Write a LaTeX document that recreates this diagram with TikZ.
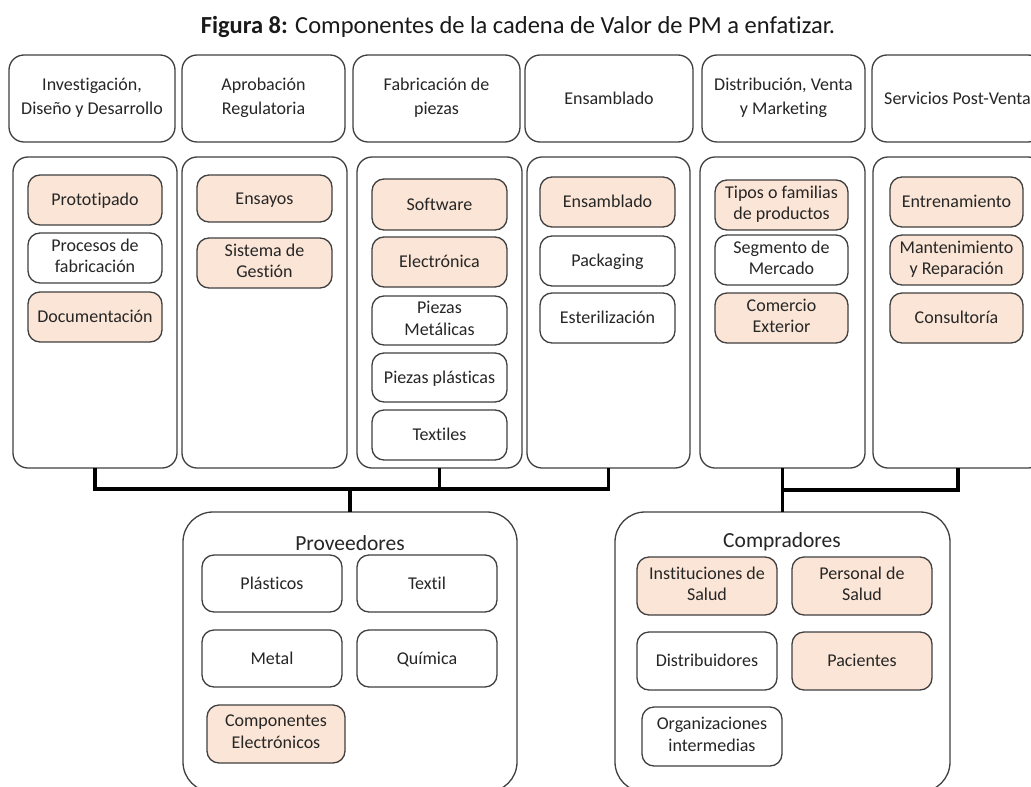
\documentclass[tikz,border=0pt]{standalone}
\usepackage{fontspec}
\setmainfont{Carlito}[Ligatures={NoCommon}]
\definecolor{peach}{HTML}{FBE5D6}
\definecolor{edge}{HTML}{404040}
\newcommand\tstrut{\rule{0pt}{15.5pt}}
\newcommand\bstrut{\rule[-4.5pt]{0pt}{4.5pt}}
\tikzset{
  base/.style={draw=edge, line width=1.3pt, align=center, inner sep=0pt, outer sep=0pt,
    font=\fontsize{18}{21.5}\selectfont, text=black!85,
    execute at begin node=\tstrut, execute at end node=\bstrut},
  head/.style={base, rounded corners=15pt, fill=white, font=\fontsize{18}{24}\selectfont},
  colbox/.style={base, rounded corners=15pt, fill=white},
  item/.style={base, rounded corners=12pt, fill=white},
  hl/.style={item, fill=peach},
  group/.style={base, rounded corners=30pt, fill=white},
  grouptitle/.style={font=\fontsize{21.5}{25}\selectfont, text=black!85, inner sep=0pt},
  conn/.style={line width=3.5pt, black, line join=miter}
}
\newcommand\bx[7]{\node[#6, minimum width={(#4-#2)*1pt}, minimum height={(#5-#3)*1pt}] (#1) at ({(#2+#4)/2},{(#3+#5)/2}) {#7};}
\begin{document}
\begin{tikzpicture}[x=1pt,y=-1pt]
\useasboundingbox[fill=white] (0,0) rectangle (1031,787);
\node[font=\fontsize{24.5}{28}\selectfont, inner sep=0pt, text=black!90] (cap) at (518,27) {\textbf{Figura 8:} Componentes de la cadena de Valor de PM a enfatizar.};
% header boxes
\bx{h1}{9}{55}{175}{142}{head}{Investigación,\\Diseño y Desarrollo}
\bx{h2}{182}{55}{345}{142}{head}{Aprobación\\Regulatoria}
\bx{h3}{353}{55}{520}{142}{head}{Fabricación de\\piezas}
\bx{h4}{525}{55}{693}{142}{head}{Ensamblado}
\bx{h5}{702}{55}{865}{142}{head}{Distribución, Venta\\y Marketing}
\bx{h6}{872}{55}{1043}{142}{head}{Servicios Post-Venta}
% columns
\bx{c1}{13}{157}{177}{468}{colbox}{}
\bx{c2}{182}{157}{347}{468}{colbox}{}
\bx{c3}{357}{157}{522}{468}{colbox}{}
\bx{c4}{527}{157}{690}{468}{colbox}{}
\bx{c5}{700}{157}{865}{468}{colbox}{}
\bx{c6}{873}{157}{1043}{468}{colbox}{}
% column 1
\bx{a1}{28}{175}{162}{225}{hl}{Prototipado}
\bx{a2}{28}{233}{162}{283}{item}{Procesos de\\fabricación}
\bx{a3}{28}{292}{162}{342}{hl}{Documentación}
% column 2
\bx{b1}{197}{175}{332}{222}{hl}{Ensayos}
\bx{b2}{197}{238}{332}{288}{hl}{Sistema de\\Gestión}
% column 3
\bx{d1}{372}{179}{507}{230}{hl}{Software}
\bx{d2}{372}{237}{507}{287}{hl}{Electrónica}
\bx{d3}{372}{296}{507}{345}{item}{Piezas\\Metálicas}
\bx{d4}{372}{353}{507}{402}{item}{Piezas plásticas}
\bx{d5}{372}{410}{507}{460}{item}{Textiles}
% column 4
\bx{e1}{540}{177}{675}{227}{hl}{Ensamblado}
\bx{e2}{540}{236}{675}{286}{item}{Packaging}
\bx{e3}{540}{293}{675}{343}{item}{Esterilización}
% column 5
\bx{f1}{715}{180}{848}{230}{hl}{Tipos o familias\\de productos}
\bx{f2}{715}{235}{848}{285}{item}{Segmento de\\Mercado}
\bx{f3}{715}{293}{848}{343}{hl}{Comercio\\Exterior}
% column 6
\bx{g1}{890}{177}{1023}{227}{hl}{Entrenamiento}
\bx{g2}{890}{235}{1023}{285}{hl}{Mantenimiento\\y Reparación}
\bx{g3}{890}{293}{1023}{343}{hl}{Consultoría}
% groups
\bx{prov}{183}{512}{517}{792}{group}{}
\node[grouptitle] (provt) at (350,543) {Proveedores};
\bx{p1}{202}{555}{342}{612}{item}{Plásticos}
\bx{p2}{357}{555}{497}{612}{item}{Textil}
\bx{p3}{202}{630}{342}{687}{item}{Metal}
\bx{p4}{357}{630}{497}{687}{item}{Química}
\bx{p5}{207}{705}{345}{763}{hl}{Componentes\\Electrónicos}
\bx{comp}{615}{512}{950}{792}{group}{}
\node[grouptitle] (compt) at (782,542) {Compradores};
\bx{q1}{637}{557}{777}{615}{hl}{Instituciones de\\Salud}
\bx{q2}{792}{557}{932}{615}{hl}{Personal de\\Salud}
\bx{q3}{637}{632}{777}{690}{item}{Distribuidores}
\bx{q4}{792}{632}{932}{690}{hl}{Pacientes}
\bx{q5}{642}{707}{782}{766}{item}{Organizaciones\\intermedias}
% connectors
\coordinate (jl) at (350,489);
\coordinate (jr) at (782,490);
\draw[conn] (c1.south) |- (c4.south |- jl) -- (c4.south);
\draw[conn] (c3.south) -- (c3.south |- jl);
\draw[conn] (prov.north) -- (prov.north |- jl);
\draw[conn] (c5.south) -- (c5.south |- comp.north);
\draw[conn] (c6.south) |- (c5.south |- jr);
\end{tikzpicture}
\end{document}
